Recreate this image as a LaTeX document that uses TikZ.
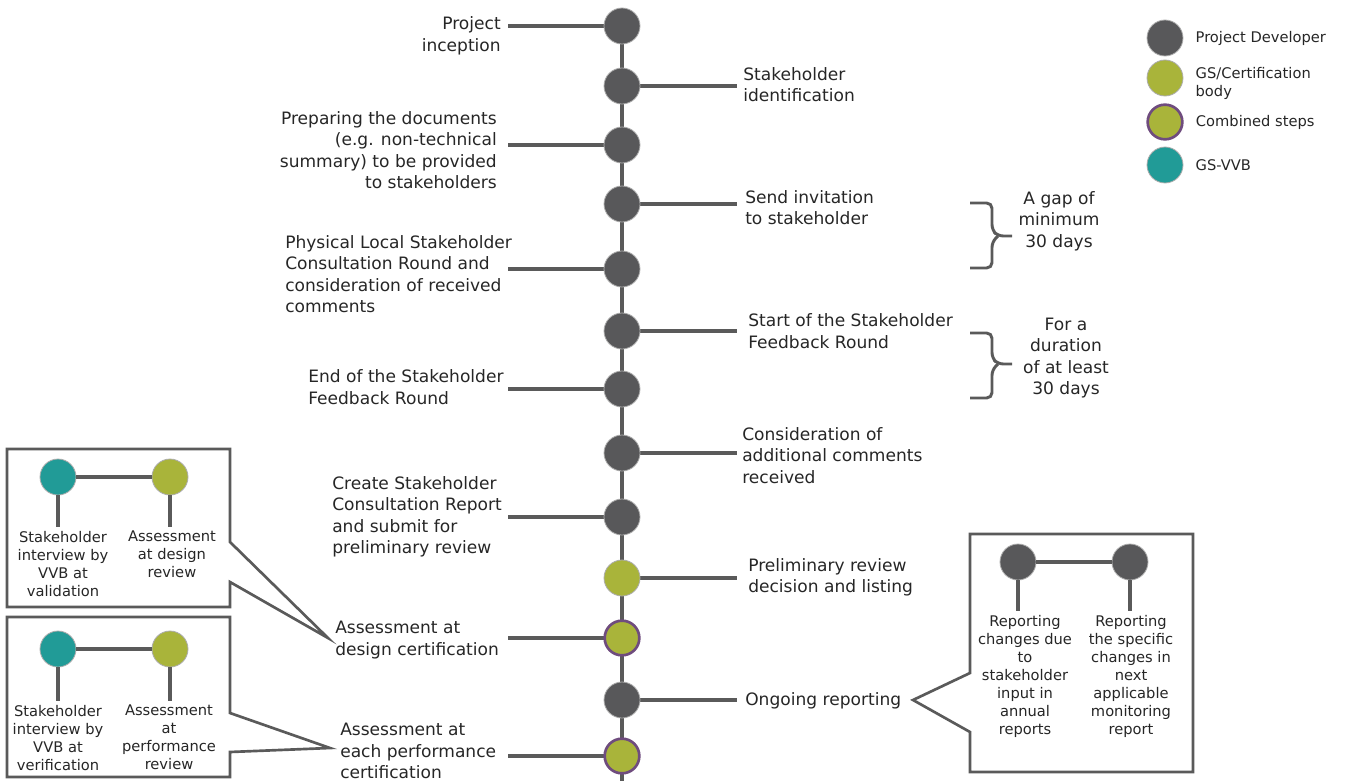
\documentclass[tikz,border=0pt]{standalone}
\usepackage{fontspec}
\setmainfont{DejaVu Sans}
\usepackage{tikz}
\usetikzlibrary{calc,positioning}
\definecolor{devgray}{HTML}{58585A}
\definecolor{linegray}{HTML}{5A5A5A}
\definecolor{gsolive}{HTML}{A9B43A}
\definecolor{vvbteal}{HTML}{219B97}
\definecolor{combpurple}{HTML}{6F4C7E}
\definecolor{txtgray}{HTML}{262626}
\pgfdeclarelayer{background}
\pgfsetlayers{background,main}
\tikzset{
  tdot/.style={circle, draw=gray!65, line width=0.6pt, minimum size=27pt, inner sep=0pt},
  devdot/.style={tdot, fill=devgray},
  gsdot/.style={tdot, fill=gsolive},
  combdot/.style={tdot, fill=gsolive, draw=combpurple, line width=2pt, minimum size=26pt},
  vvbdot/.style={tdot, fill=vvbteal},
  stem/.style={draw=linegray, line width=3pt},
  lbl/.style={inner sep=0pt, text=txtgray, font=\fontsize{12.8}{16.1}\selectfont},
  smalltxt/.style={inner sep=0pt, text=txtgray, align=center, font=\fontsize{11}{13.5}\selectfont},
  calloutbox/.style={draw=linegray, line width=2pt, fill=white, line join=miter},
  gapbrace/.style={draw=linegray, line width=2.2pt, rounded corners=4pt},
}
\begin{document}
\begin{tikzpicture}[x=0.75pt, y=-0.75pt]
  \useasboundingbox (0,0) rectangle (1345,781);
  % timeline steps
  \foreach \n/\y/\s in {1/26/devdot, 2/86/devdot, 3/145/devdot, 4/204/devdot, 5/269/devdot,
      6/331/devdot, 7/389/devdot, 8/453/devdot, 9/517/devdot, 10/578/gsdot,
      11/638/combdot, 12/700/devdot, 13/756/combdot}
    \node[\s] (c\n) at (622,\y) {};
  \coordinate (bot) at (622,781);
  \coordinate (lft) at (508,0);
  \coordinate (rgt) at (737,0);
  \begin{pgfonlayer}{background}
    \draw[stem] (c1.center) -- (bot);% spine
    \foreach \n in {1,3,...,13} \draw[stem] (c\n.center) -- (c\n.center -| lft);
    \foreach \n in {2,4,...,12} \draw[stem] (c\n.center) -- (c\n.center -| rgt);
  \end{pgfonlayer}

  % left labels
  \node[lbl, align=right, anchor=east] (t1) at (501,36) {Project\\inception};
  \node[lbl, align=right, anchor=east] (t3) at (497,150) {Preparing the documents\\(e.g. non-technical\\summary) to be provided\\to stakeholders};
  \node[lbl, align=left, anchor=west] (t5) at (285,274) {Physical Local Stakeholder\\Consultation Round and\\consideration of received\\comments};
  \node[lbl, align=left, anchor=west] (t7) at (308,387) {End of the Stakeholder\\Feedback Round};
  \node[lbl, align=left, anchor=west] (t9) at (332,517) {Create Stakeholder\\Consultation Report\\and submit for\\preliminary review};
  \node[lbl, align=left, anchor=west] (t11) at (335,640) {Assessment at\\design certification};
  \node[lbl, align=left, anchor=west] (t13) at (340,751) {Assessment at\\each performance\\certification};
  % right labels
  \node[lbl, align=left, anchor=west] (t2) at (743,84.5) {Stakeholder\\identification};
  \node[lbl, align=left, anchor=west] (t4) at (745,207.5) {Send invitation\\to stakeholder};
  \node[lbl, align=left, anchor=west] (t6) at (748,331) {Start of the Stakeholder\\Feedback Round};
  \node[lbl, align=left, anchor=west] (t8) at (742,455.5) {Consideration of\\additional comments\\received};
  \node[lbl, align=left, anchor=west] (t10) at (748,577.5) {Preliminary review\\decision and listing};
  \node[lbl, align=left, anchor=west] (t12) at (745,701) {Ongoing reporting};

  % gaps
  \coordinate (b1a) at (970,203); \coordinate (b1b) at (970,268); \coordinate (b1m) at (1012,236);
  \coordinate (b2a) at (970,333); \coordinate (b2b) at (970,398); \coordinate (b2m) at (1012,364);
  \draw[gapbrace] (b1a) -- ++(22,0) -- (992,230) -- (998,236) -- (b1m);
  \draw[gapbrace] (b1b) -- ++(22,0) -- (992,242) -- (998,236);
  \draw[gapbrace] (b2a) -- ++(22,0) -- (992,358) -- (998,364) -- (b2m);
  \draw[gapbrace] (b2b) -- ++(22,0) -- (992,370) -- (998,364);
  \node[lbl, align=center] (gap1) at (1059,221) {A gap of\\minimum\\30 days};
  \node[lbl, align=center] (gap2) at (1066,358) {For a\\duration\\of at least\\30 days};

  % legend
  \node[devdot] (key1) at (1165,38) {};
  \node[gsdot] (key2) at (1165,78) {};
  \node[combdot] (key3) at (1165,122) {};
  \node[vvbdot] (key4) at (1165,165) {};
  \node[smalltxt, align=left, right=9pt of key1] (k1) {Project Developer};
  \node[smalltxt, align=left, right=9pt of key2, yshift=-4pt] (k2) {GS/Certification\\body};
  \node[smalltxt, align=left, right=9pt of key3] (k3) {Combined steps};
  \node[smalltxt, align=left, right=9pt of key4] (k4) {GS-VVB};

  % callout: design certification
  \draw[calloutbox] (7,449) -- (230,449) -- (230,542) -- (328,638) -- (230,582) -- (230,607) -- (7,607) -- cycle;
  \node[vvbdot] (va) at (58,477) {};
  \node[gsdot] (ga) at (170,477) {};
  \node[smalltxt, anchor=north] (vat) at (63,531) {Stakeholder\\interview by\\VVB at\\validation};
  \node[smalltxt, anchor=north] (gat) at (172,531) {Assessment\\at design\\review};
  \draw[stem, shorten >=3pt] (va) -- (va |- vat.north);
  \draw[stem, shorten >=3pt] (ga) -- (ga |- gat.north);
  \draw[stem] (va) -- (ga);

  % callout: performance certification
  \draw[calloutbox] (7,617) -- (230,617) -- (230,713) -- (330,748) -- (230,752) -- (230,777) -- (7,777) -- cycle;
  \node[vvbdot] (vb) at (58,649) {};
  \node[gsdot] (gb) at (170,649) {};
  \node[smalltxt, anchor=north] (vbt) at (58,705) {Stakeholder\\interview by\\VVB at\\verification};
  \node[smalltxt, anchor=north] (gbt) at (169,705) {Assessment\\at\\performance\\review};
  \draw[stem, shorten >=3pt] (vb) -- (vb |- vbt.north);
  \draw[stem, shorten >=3pt] (gb) -- (gb |- gbt.north);
  \draw[stem] (vb) -- (gb);

  % callout: ongoing reporting
  \draw[calloutbox] (970,534) -- (1193,534) -- (1193,772) -- (970,772) -- (970,732) -- (913,700) -- (970,673) -- cycle;
  \node[devdot] (ra) at (1018,562) {};
  \node[devdot] (rb) at (1130,562) {};
  \node[smalltxt, anchor=north] (rat) at (1025,615) {Reporting\\changes due\\to\\stakeholder\\input in\\annual\\reports};
  \node[smalltxt, anchor=north] (rbt) at (1131,615) {Reporting\\the specific\\changes in\\next\\applicable\\monitoring\\report};
  \draw[stem, shorten >=3pt] (ra) -- (ra |- rat.north);
  \draw[stem, shorten >=3pt] (rb) -- (rb |- rbt.north);
  \draw[stem] (ra) -- (rb);
\end{tikzpicture}
\end{document}
